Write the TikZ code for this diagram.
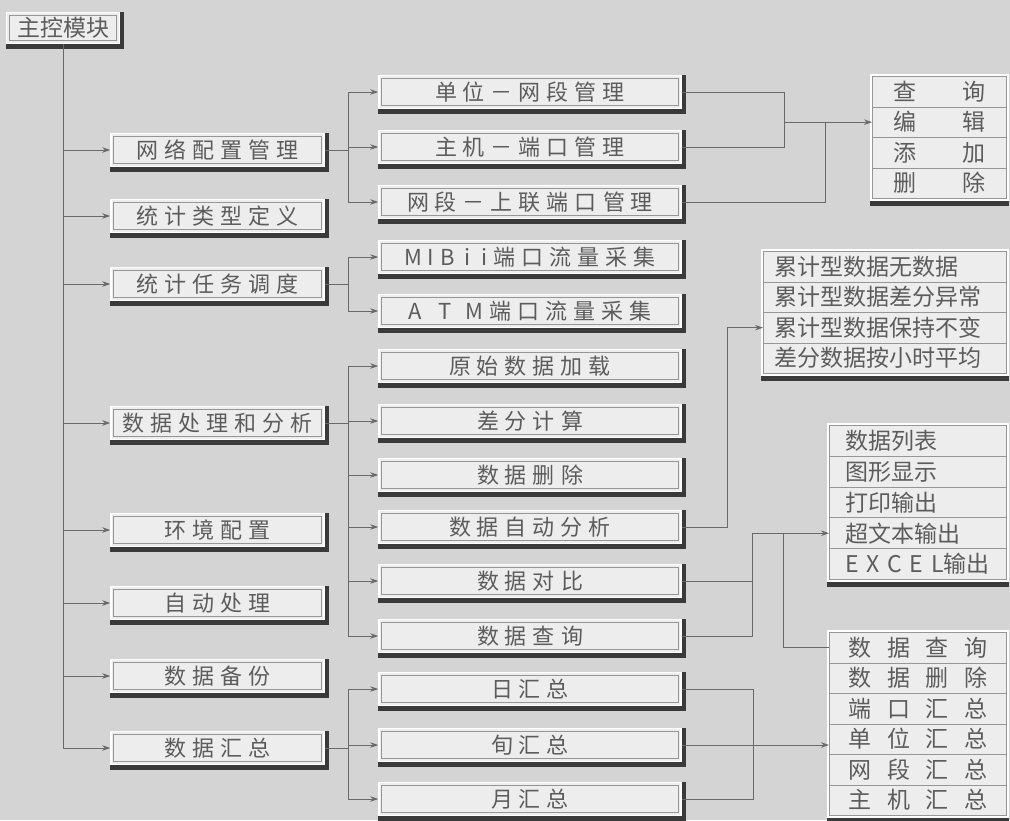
\documentclass[tikz,border=0pt]{standalone}
\usepackage{fontspec}
\newfontfamily\cjk{Noto Sans CJK SC}
\usetikzlibrary{arrows.meta}
\definecolor{bgc}{RGB}{212,212,212}
\definecolor{boxfill}{RGB}{237,237,237}
\definecolor{innerline}{RGB}{150,150,150}
\definecolor{shadowc}{RGB}{58,58,58}
\definecolor{txt}{RGB}{92,92,92}
\definecolor{linec}{RGB}{105,105,105}
\newcommand\lvfont{\cjk\fontsize{22}{26}\selectfont\spaceskip=6pt\relax}
\newcommand\tbfont{\cjk\fontsize{23}{26}\selectfont\spaceskip=6pt\relax}
\pgfdeclarelayer{background}
\pgfdeclarelayer{shadow}
\pgfdeclarelayer{frame}
\pgfsetlayers{background,shadow,frame,main}
\begin{document}
\begin{tikzpicture}[x=1pt,y=-1pt,
  lvbox/.style={draw=white, line width=1.6pt, fill=boxfill, inner sep=0pt, text=txt, font=\lvfont,
    path picture={\draw[innerline, line width=0.8pt]
      ([shift={(2.8pt,2.8pt)}]path picture bounding box.south west) rectangle
      ([shift={(-2.8pt,-2.8pt)}]path picture bounding box.north east);}},
  rootbox/.style={lvbox, minimum width=113pt, minimum height=31pt},
  abox/.style={lvbox, minimum width=213pt, minimum height=33pt},
  bbox/.style={lvbox, minimum width=302pt, minimum height=33pt},
  row/.style={draw=innerline, line width=0.8pt, fill=boxfill, inner sep=0pt, anchor=north west,
    text=txt, font=\tbfont, minimum height=30.5pt},
  qrow/.style={row, minimum width=134pt},
  crow/.style={row, text width=221pt, inner xsep=11pt, align=left},
  orow/.style={row, text width=145pt, inner xsep=16pt, align=left, minimum height=30.8pt},
  drow/.style={row, minimum width=177pt},
  ln/.style={draw=linec, line width=0.8pt},
  arr/.style={ln, -{Stealth[length=8pt,width=5.5pt]}}
]
\begin{pgfonlayer}{background}
\fill[bgc] (0,0) rectangle (1010,820);
\end{pgfonlayer}
\useasboundingbox (0,0) rectangle (1010,820);

% root
\node[rootbox, font=\cjk\fontsize{23}{26}\selectfont] (root) at (63,28) {主控模块};

% level 1
\node[abox] (a1) at (217.5,150) {网 络 配 置 管 理};
\node[abox] (a2) at (217.5,216) {统 计 类 型 定 义};
\node[abox] (a3) at (217.5,284) {统 计 任 务 调 度};
\node[abox] (a4) at (217.5,423) {数 据 处 理 和 分 析};
\node[abox] (a5) at (217.5,530) {环 境 配 置};
\node[abox] (a6) at (217.5,603) {自 动 处 理};
\node[abox] (a7) at (217.5,676) {数 据 备 份};
\node[abox] (a8) at (217.5,748) {数 据 汇 总};

% level 2
\node[bbox] (b1) at (530,92) {单 位 － 网 段 管 理};
\node[bbox] (b2) at (530,147) {主 机 － 端 口 管 理};
\node[bbox] (b3) at (530,202) {网 段 － 上 联 端 口 管 理};
\node[bbox] (b4) at (530,257) {M\hspace{5pt}I\hspace{7pt}B\hspace{9pt}i\hspace{11pt}i 端 口 流 量 采 集};
\node[bbox] (b5) at (530,311) {A\hspace{16pt}T\hspace{14pt}M 端 口 流 量 采 集};
\node[bbox] (b6) at (530,366) {原 始 数 据 加 载};
\node[bbox] (b7) at (530,421) {差 分 计 算};
\node[bbox] (b8) at (530,475) {数 据 删 除};
\node[bbox] (b9) at (530,527) {数 据 自 动 分 析};
\node[bbox] (b10) at (530,581) {数 据 对 比};
\node[bbox] (b11) at (530,636) {数 据 查 询};
\node[bbox] (b12) at (530,689) {日 汇 总};
\node[bbox] (b13) at (530,745) {旬 汇 总};
\node[bbox] (b14) at (530,799) {月 汇 总};

% table q
\node[qrow] (q1) at (872,76) {\makebox[92pt]{查\hfill 询}};
\node[qrow] (q2) at (872,106.5) {\makebox[92pt]{编\hfill 辑}};
\node[qrow] (q3) at (872,137) {\makebox[92pt]{添\hfill 加}};
\node[qrow] (q4) at (872,167.5) {\makebox[92pt]{删\hfill 除}};

% table c
\node[crow] (c1) at (763,251) {累计型数据无数据};
\node[crow] (c2) at (763,281.5) {累计型数据差分异常};
\node[crow] (c3) at (763,312) {累计型数据保持不变};
\node[crow] (c4) at (763,342.5) {差分数据按小时平均};

% table o
\node[orow] (o1) at (829,425) {数据列表};
\node[orow] (o2) at (829,455.8) {图形显示};
\node[orow] (o3) at (829,486.6) {打印输出};
\node[orow] (o4) at (829,517.4) {超文本输出};
\node[orow] (o5) at (829,548.2) {E X C E L输出};

% table d
\node[drow] (d1) at (829,632) {\makebox[139pt]{数\hfill 据\hfill 查\hfill 询}};
\node[drow] (d2) at (829,662.5) {\makebox[139pt]{数\hfill 据\hfill 删\hfill 除}};
\node[drow] (d3) at (829,693) {\makebox[139pt]{端\hfill 口\hfill 汇\hfill 总}};
\node[drow] (d4) at (829,723.5) {\makebox[139pt]{单\hfill 位\hfill 汇\hfill 总}};
\node[drow] (d5) at (829,754) {\makebox[139pt]{网\hfill 段\hfill 汇\hfill 总}};
\node[drow] (d6) at (829,784.5) {\makebox[139pt]{主\hfill 机\hfill 汇\hfill 总}};

% shadows
\begin{pgfonlayer}{shadow}
\foreach \n in {root,a1,a2,a3,a4,a5,a6,a7,a8,b1,b2,b3,b4,b5,b6,b7,b8,b9,b10,b11,b12,b13,b14}
  \fill[shadowc] (\n.north west) rectangle ([shift={(4pt,-5pt)}]\n.south east);
\foreach \t/\b in {q1/q4,c1/c4,o1/o5,d1/d6}
  \fill[shadowc] ([shift={(-2.5pt,0pt)}]\b.south west) rectangle ([shift={(2.5pt,-7.5pt)}]\b.south east);
\end{pgfonlayer}
\begin{pgfonlayer}{frame}
\foreach \t/\b in {q1/q4,c1/c4,o1/o5,d1/d6}
  \fill[white] ([shift={(-2.5pt,2.5pt)}]\t.north west) rectangle ([shift={(2.5pt,-2.5pt)}]\b.south east);
\end{pgfonlayer}

% trunk
\draw[arr] (root.south) |- (a8.west);
\foreach \n in {a1,a2,a3,a4,a5,a6,a7}
  \draw[arr] (root.south |- \n.west) -- (\n.west);

% branch x
\coordinate (bx) at (348,0);
\draw[ln] (a1.east) -- (bx |- a1.east);
\draw[ln] (bx |- b1.west) -- (bx |- b3.west);
\foreach \n in {b1,b2,b3} \draw[arr] (bx |- \n.west) -- (\n.west);
\draw[ln] (a3.east) -- (bx |- a3.east);
\draw[ln] (bx |- b4.west) -- (bx |- b5.west);
\foreach \n in {b4,b5} \draw[arr] (bx |- \n.west) -- (\n.west);
\draw[ln] (a4.east) -- (bx |- a4.east);
\draw[ln] (bx |- b6.west) -- (bx |- b11.west);
\foreach \n in {b6,b7,b8,b9,b10,b11} \draw[arr] (bx |- \n.west) -- (\n.west);
\draw[ln] (a8.east) -- (bx |- a8.east);
\draw[ln] (bx |- b12.west) -- (bx |- b14.west);
\foreach \n in {b12,b13,b14} \draw[arr] (bx |- \n.west) -- (\n.west);

% right side
\coordinate (rA) at (784,0);
\coordinate (rB) at (825,0);
\coordinate (rC) at (727,0);
\coordinate (rD) at (752,0);
\coordinate (rE) at (783,0);
\coordinate (rF) at (753,0);
\draw[ln] (b1.east) -| (rA |- b2.east) -- (b2.east);
\draw[arr] (rA |- q2.west) -- (q2.west);
\draw[ln] (b3.east) -| (rB |- q2.west);
\draw[arr] (b9.east) -| (rC |- c3.west) -- (c3.west);
\draw[arr] (b11.east) -| (rD |- o4.west) -- (o4.west);
\draw[ln] (b10.east) -- (rD |- b10.east);
\draw[ln] (rE |- o4.west) |- (d1.west);
\draw[ln] (b12.east) -| (rF |- b14.east) -- (b14.east);
\draw[arr] (b13.east) -- (b13.east -| d4.west);
\end{tikzpicture}
\end{document}
